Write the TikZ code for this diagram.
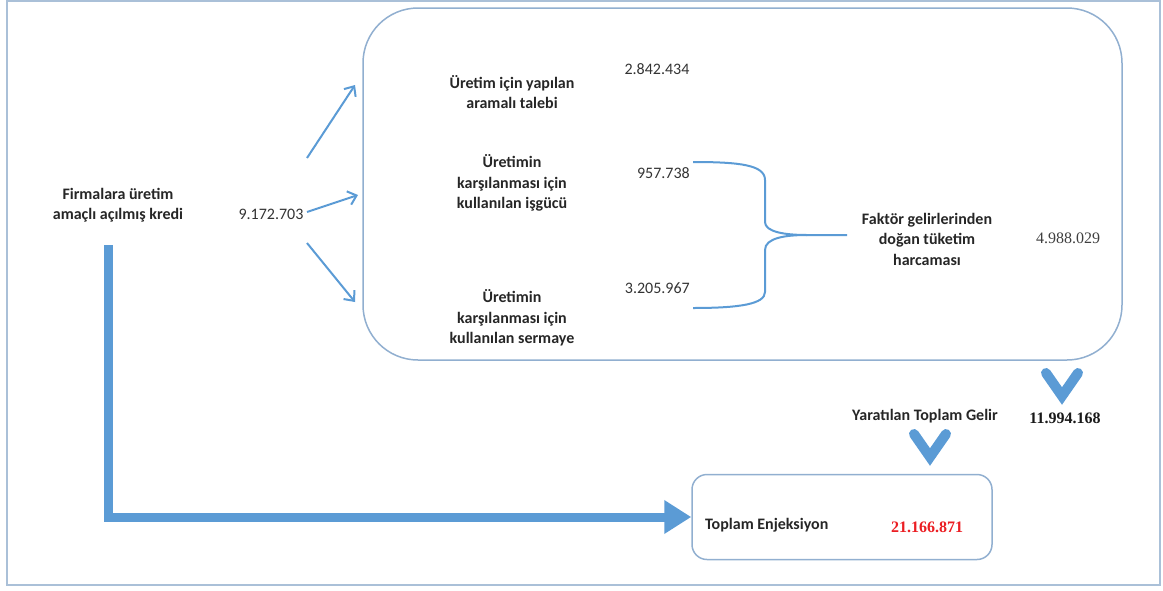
\documentclass[tikz,border=0pt]{standalone}
\usepackage{fontspec}
\setmainfont{Carlito}
\newfontfamily\tms{Liberation Serif}
\usetikzlibrary{arrows.meta}
\definecolor{flow}{RGB}{91,155,213}
\definecolor{framec}{RGB}{170,192,216}
\definecolor{boxline}{RGB}{145,175,208}
\definecolor{numred}{RGB}{235,30,35}
\begin{document}
\begin{tikzpicture}[x=1pt,y=-1pt,
  lbl/.style={font=\fontsize{16}{20.5}\selectfont\bfseries, align=center, text=black!85, inner sep=0},
  num/.style={font=\fontsize{16}{20}\selectfont, text=black!80, inner sep=0},
  tnum/.style={font=\fontsize{16}{20}\selectfont\tms, text=black!75, inner sep=0},
  thinarrow/.style={draw=flow, line width=2, -{Straight Barb[length=8pt,width=14pt]}},
  chev/.style={draw=flow, line width=10, line cap=round, line join=miter},
  rbox/.style={draw=boxline, line width=1.5, inner sep=0},
]
\useasboundingbox (0,0) rectangle (1163,590);
\node[draw=framec, line width=2, minimum width=1153pt, minimum height=584pt, inner sep=0] (frame) at (583.5,293) {};
\node[rbox, rounded corners=55pt, minimum width=759pt, minimum height=352pt] (bigbox) at (742.5,184) {};
\node[rbox, rounded corners=15pt, minimum width=300pt, minimum height=85pt] (smallbox) at (842,517) {};

\node[lbl] (credit) at (118,205) {Firmalara üretim\\amaçlı açılmış kredi};
\node[num] (v0) at (271,214) {9.172.703};
\node[lbl] (t1) at (512,92) {Üretim için yapılan\\aramalı talebi};
\node[num] (v1) at (657,69) {2.842.434};
\node[lbl] (t2) at (512,183) {Üretimin\\karşılanması için\\kullanılan işgücü};
\node[num, anchor=east] (v2) at (690,173) {957.738};
\node[lbl] (t3) at (512,318) {Üretimin\\karşılanması için\\kullanılan sermaye};
\node[num, anchor=east] (v3) at (690,288) {3.205.967};
\node[lbl] (t4) at (927,239) {Faktör gelirlerinden\\doğan tüketim\\harcaması};
\node[tnum] (v4) at (1068,238) {4.988.029};
\node[tnum, font=\fontsize{16}{20}\selectfont\tms\bfseries, text=black!90] (v5) at (1065,418) {11.994.168};
\node[lbl] (t5) at (925,416) {Yaratılan Toplam Gelir};
\node[lbl, anchor=west] (t6) at (705,525) {Toplam Enjeksiyon};
\node[tnum, font=\fontsize{16}{20}\selectfont\tms\bfseries, text=numred] (v6) at (927,527) {21.166.871};

% thin arrows from the credit amount
\coordinate (a1s) at (307,158); \coordinate (a1e) at (355,85);
\coordinate (a2s) at (307,212); \coordinate (a2e) at (358,195);
\coordinate (a3s) at (307,243); \coordinate (a3e) at (355,302);
\draw[thinarrow] (a1s) -- (a1e);
\draw[thinarrow] (a2s) -- (a2e);
\draw[thinarrow] (a3s) -- (a3e);

% brace
\coordinate (b1) at (693,162);
\coordinate (b2) at (693,308);
\coordinate (btip) at (807,235);
\coordinate (bend) at (847,235);
\draw[flow, line width=2]
  (b1) .. controls (740,162) and (765,165) .. (765,180) -- (765,222)
  .. controls (765,232) and (785,235) .. (btip) -- (bend);
\draw[flow, line width=2]
  (btip) .. controls (785,235) and (765,238) .. (765,250) -- (765,292)
  .. controls (765,304) and (740,308) .. (b2);

% chevrons
\coordinate (c1a) at (1046,373); \coordinate (c1b) at (1062,396); \coordinate (c1c) at (1078,373);
\draw[chev] (c1a) -- (c1b) -- (c1c);
\coordinate (c2a) at (914,434); \coordinate (c2b) at (930,457); \coordinate (c2c) at (946,434);
\draw[chev] (c2a) -- (c2b) -- (c2c);

% thick L-shaped arrow
\coordinate (cs) at (108,245);
\draw[flow, line width=9, -{Triangle[length=27pt,width=32pt]}] (cs) |- (smallbox.west);
\end{tikzpicture}
\end{document}
